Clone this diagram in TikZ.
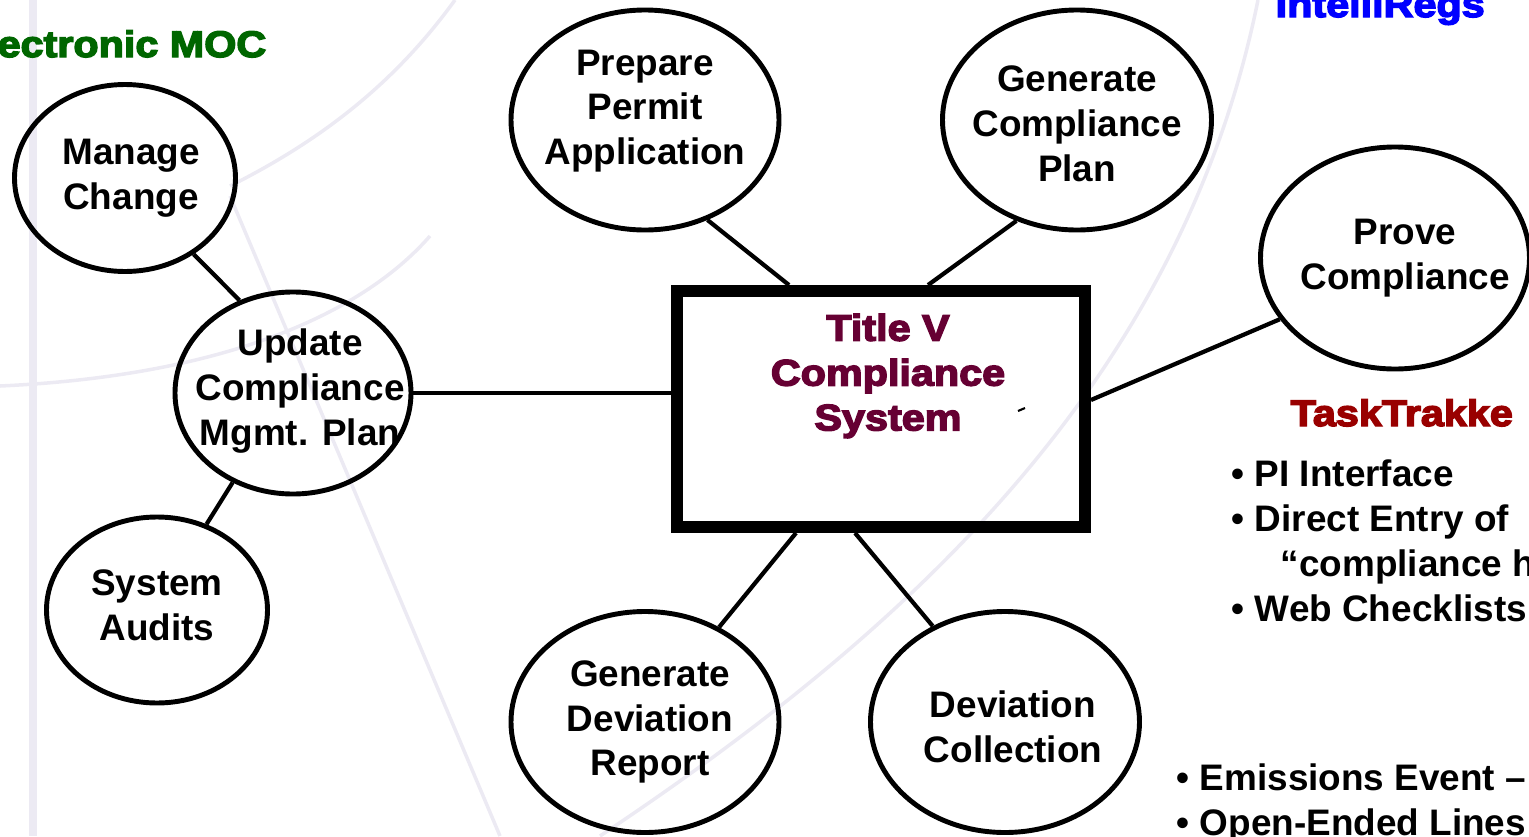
\documentclass[tikz,border=0pt]{standalone}
\usepackage{fontspec}
\usetikzlibrary{shapes.geometric}
\setmainfont{Liberation Sans}
\newfontfamily\heavyfont[FakeBold=4,FakeStretch=1.12]{Liberation Sans Bold}
\definecolor{swirlgray}{RGB}{236,234,243}
\definecolor{titlemaroon}{RGB}{102,0,51}
\definecolor{ttred}{RGB}{153,0,0}
\definecolor{irblue}{RGB}{0,0,255}
\definecolor{mocgreen}{RGB}{0,102,0}
\begin{document}
\begin{tikzpicture}[
		font=\bfseries\fontsize{10.5}{12.76}\selectfont,
		bubble/.style={draw,ellipse,line width=1.4pt,inner sep=0pt},
		words/.style={align=center,inner sep=0pt},
		link/.style={line width=1.2pt},
		swirl/.style={draw=swirlgray,line width=1pt},
		heads/.style={inner sep=0pt,font=\heavyfont\fontsize{10.5}{12.76}\selectfont},
		items/.style={anchor=base west,inner sep=0pt}
	]
	\useasboundingbox (0,0) rectangle (15.29,8.36);
	\clip (0,0) rectangle (15.29,8.36);

	% faint swirls of the slide background
	\draw[swirl,line width=2pt] (0.33,0) -- (0.33,8.36);
	\draw[swirl] (2.30,6.50) .. controls (3.30,7.00) and (4.00,7.60) .. (4.55,8.36);
	\draw[swirl] (2.30,6.40) -- (5.00,0);
	\draw[swirl] (0,4.50) .. controls (2.20,4.60) and (3.60,5.20) .. (4.30,6.00);
	\draw[swirl] (12.58,8.36) .. controls (11.80,4.50) and (9.00,2.00) .. (6.00,0);

	% the headings, cut by the edge of the slide
	\node[heads,text=irblue,anchor=base west] (intelliregs) at (12.75,8.19) {IntelliRegs};
	\node[heads,text=mocgreen,anchor=base east] (emoc) at (2.67,7.79) {ectronic MOC};
	\node[heads,text=ttred,anchor=base west] (tasktrakker) at (12.90,4.10) {TaskTrakke};

	% the central box
	\node[draw,line width=3.4pt,minimum width=4.08cm,minimum height=2.36cm,inner sep=0pt] (tvcs) at (8.81,4.27) {};
	\node[heads,text=titlemaroon,align=center] (tvcs title) at (8.88,4.60) {Title V\\Compliance\\System};
	\draw[line width=0.6pt] (10.18,4.25) -- (10.25,4.28);

	% the bubbles, the words are labels so they do not widen the ellipse
	\node[bubble,minimum width=2.21cm,minimum height=1.87cm,
		label={[words,xshift=0.06cm]center:Manage\\Change}] (mc) at (1.25,6.58) {};
	\node[bubble,minimum width=2.36cm,minimum height=2.02cm,
		label={[words,xshift=0.07cm,yshift=0.02cm]center:Update\\Compliance\\Mgmt. Plan}] (ucmp) at (2.93,4.43) {};
	\node[bubble,minimum width=2.21cm,minimum height=1.86cm,
		label={[words,yshift=0.05cm]center:System\\Audits}] (sa) at (1.57,2.26) {};
	\node[bubble,minimum width=2.68cm,minimum height=2.20cm,
		label={[words,yshift=0.09cm]center:Prepare\\Permit\\Application}] (ppa) at (6.45,7.16) {};
	\node[bubble,minimum width=2.69cm,minimum height=2.20cm,
		label={[words,yshift=-0.04cm]center:Generate\\Compliance\\Plan}] (gcp) at (10.77,7.16) {};
	\node[bubble,minimum width=2.69cm,minimum height=2.22cm,
		label={[words,xshift=0.10cm]center:Prove\\Compliance}] (pc) at (13.95,5.78) {};
	\node[bubble,minimum width=2.68cm,minimum height=2.21cm,
		label={[words,xshift=0.05cm]center:Generate\\Deviation\\Report}] (gdr) at (6.45,1.14) {};
	\node[bubble,minimum width=2.69cm,minimum height=2.21cm,
		label={[words,xshift=0.08cm,yshift=-0.05cm]center:Deviation\\Collection}] (dc) at (10.05,1.14) {};

	% spokes
	\draw[link] (mc.-48.5) -- (ucmp.120.6);
	\draw[link] (ucmp.east) -- (ucmp.east -| tvcs.west);
	\draw[link] (ucmp.236.6) -- (sa.60.4);
	\draw[link] (ppa.-58.2) -- ([xshift=1.18cm]tvcs.north west);
	\draw[link] (gcp.-121.8) -- ([xshift=2.57cm]tvcs.north west);
	\draw[link] (pc.208.3) -- ([yshift=0.09cm]tvcs.east);
	\draw[link] ([xshift=1.25cm]tvcs.south west) -- (gdr.52.5);
	\draw[link] ([xshift=1.84cm]tvcs.south west) -- (dc.127);

	% the bullet lists
	\foreach \x/\y/\txt [count=\i] in {
		12.31/3.50/{• PI Interface},
		12.31/3.05/{• Direct Entry of},
		12.80/2.60/{“compliance h},
		12.31/2.15/{• Web Checklists}}
			\node[items] (tt item\i) at (\x,\y) {\txt};
	\foreach \x/\y/\txt [count=\i] in {
		11.76/0.46/{• Emissions Event –},
		11.76/0.01/{• Open-Ended Lines}}
			\node[items] (ev item\i) at (\x,\y) {\txt};
\end{tikzpicture}
\end{document}
